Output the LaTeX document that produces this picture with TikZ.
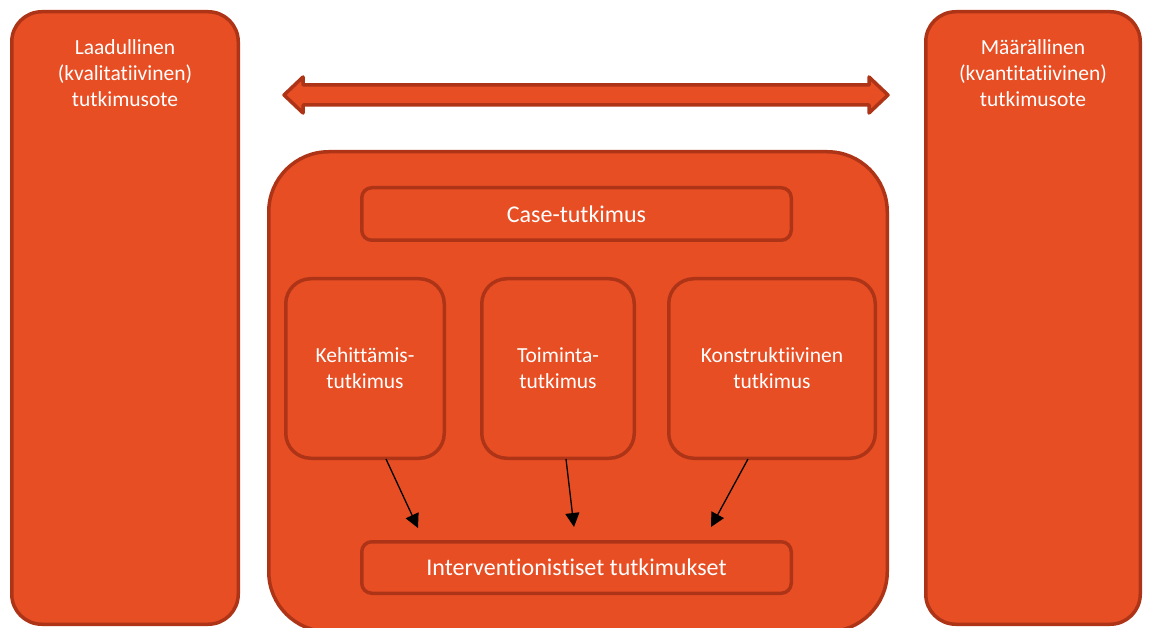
\documentclass[tikz,border=0pt]{standalone}
\usepackage{fontspec}
\setmainfont{Carlito}[Ligatures=NoCommon]
\usetikzlibrary{arrows.meta}
\definecolor{fillc}{HTML}{E84E24}
\definecolor{edgec}{HTML}{AE3418}
\begin{document}
\begin{tikzpicture}[x=1pt,y=-1pt,
  box/.style={draw=edgec,fill=fillc,line width=3.5pt,text=white,align=center,inner sep=0pt,anchor=north west},
  txt/.style={font=\fontsize{21.5}{26}\selectfont},
  big/.style={font=\fontsize{24}{28}\selectfont},
  conn/.style={-{Triangle[length=14pt,width=14pt]},line width=1.3pt,black}]
\useasboundingbox (0,0) rectangle (1151,628);
\node[box,rounded corners=30pt,minimum width=226.5pt,minimum height=612.5pt] (L) at (10,10) {};
\node[txt,text=white,align=center,anchor=north] (Lt) at (125,36) {Laadullinen\\(kvalitatiivinen)\\tutkimusote};
\node[box,rounded corners=30pt,minimum width=214.5pt,minimum height=612.5pt] (R) at (924,10) {};
\node[txt,text=white,align=center,anchor=north] (Rt) at (1033,36) {Määrällinen\\(kvantitatiivinen)\\tutkimusote};
\node[box,rounded corners=60pt,minimum width=618.5pt,minimum height=480pt] (C) at (267,150) {};
\node[box,rounded corners=10pt,minimum width=429.5pt,minimum height=52.5pt,big] (case) at (360,186) {Case-tutkimus};
\node[box,rounded corners=25pt,minimum width=158.5pt,minimum height=179.5pt,txt] (k1) at (284,277) {Kehittämis-\\tutkimus};
\node[box,rounded corners=25pt,minimum width=152.5pt,minimum height=179.5pt,txt] (k2) at (480,277) {Toiminta-\\tutkimus};
\node[box,rounded corners=25pt,minimum width=206.5pt,minimum height=179.5pt,txt] (k3) at (667,277) {Konstruktiivinen\\tutkimus};
\node[box,rounded corners=10pt,minimum width=429.5pt,minimum height=51.5pt,big] (int) at (360,540) {Interventionistiset tutkimukset};
% double arrow
\draw[draw=edgec,fill=fillc,line width=3.5pt,line join=round]
  (284,95) -- (303,77) -- (303,85) -- (869,85) -- (869,77) -- (888,95) -- (869,113) -- (869,105) -- (303,105) -- (303,113) -- cycle;
\coordinate (a1) at (418,528);
\coordinate (a2) at (574,527);
\coordinate (a3) at (711,527);
\draw[conn] (k1.south west) ++(102,-1) coordinate (s1) -- (a1);
\draw[conn] (k2.south west) ++(86,-1) coordinate (s2) -- (a2);
\draw[conn] (k3.south west) ++(81,-1) coordinate (s3) -- (a3);
\end{tikzpicture}
\end{document}
